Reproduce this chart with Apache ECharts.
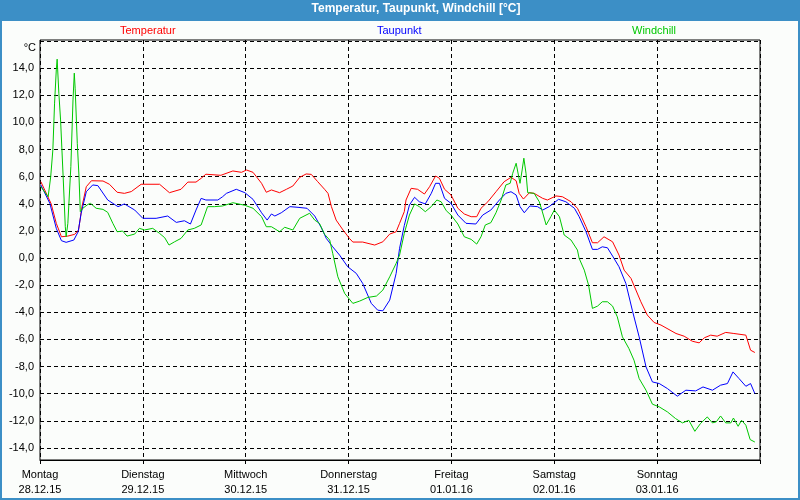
<!DOCTYPE html>
<html>
<head>
<meta charset="utf-8">
<script src="https://cdn.jsdelivr.net/npm/echarts@6/dist/echarts.min.js"></script>
<style>html,body{margin:0;padding:0;background:#fbfdfb;}#c{width:800px;height:500px;}</style>
</head>
<body>
<div id="c"></div>
<script>
// Day labels (tick every 24 h, starting Monday 28.12.15 00:00)
const dayNames = ['Montag','Dienstag','Mittwoch','Donnerstag','Freitag','Samstag','Sonntag'];
const dayDates = ['28.12.15','29.12.15','30.12.15','31.12.15','01.01.16','02.01.16','03.01.16'];
const yTicks = [-14,-12,-10,-8,-6,-4,-2,0,2,4,6,8,10,12,14];

// Temperatur (hours since Monday 00:00, °C)
const tempHours = [0.2,2.6,3.8,5.0,6.5,8.1,9.0,9.8,10.8,12.0,14.7,16.2,18.0,19.7,21.3,23.6,27.9,30.2,32.9,34.5,36.4,37.6,38.7,42.2,45.0,47.0,48.2,49.7,51.7,52.8,54.0,55.9,57.5,59.0,60.6,62.1,63.3,64.8,66.4,67.2,68.0,69.1,70.7,72.2,73.0,75.3,78.1,80.0,81.6,83.1,83.9,85.0,85.4,86.6,88.1,89.7,90.9,92.3,93.2,94.4,95.9,97.5,99.0,100.6,101.9,102.9,104.5,106.4,108.3,109.9,111.1,111.8,112.8,114.2,115.3,117.3,118.4,120.4,121.9,123.9,125.4,125.8,127.4,128.9,130.1,131.6,133.6,135.1,136.3,137.9,140.2,141.7,143.3,144.9,148.4,150.3,152.2,153.8,155.0,156.5,158.0,160.0,161.9,164.7,165.8,166.8];
const tempValues = [5.63,4.0,2.56,1.57,1.62,1.75,2.07,3.8,5.26,5.7,5.68,5.44,4.85,4.77,4.9,5.44,5.44,4.82,5.07,5.6,5.6,5.88,6.18,6.1,6.42,6.32,6.49,6.32,5.51,4.85,5.02,4.82,5.07,5.31,5.95,6.2,6.17,5.63,5.07,4.77,3.79,2.8,2.07,1.45,1.18,1.18,0.96,1.2,1.77,1.94,2.56,3.42,4.28,5.14,5.07,4.72,5.26,6.05,5.88,5.07,4.65,3.67,3.25,3.05,3.05,3.67,4.15,4.89,5.63,5.95,5.7,4.77,4.35,4.82,4.77,4.4,4.28,4.58,4.52,4.15,3.67,3.42,2.31,1.13,1.13,1.57,1.2,0.22,-0.89,-1.5,-3.22,-4.2,-4.75,-4.94,-5.56,-5.76,-6.13,-6.25,-5.88,-5.68,-5.76,-5.48,-5.56,-5.68,-6.79,-6.96];

// Taupunkt
const dewHours = [0.2,2.3,3.8,5.0,6.1,7.9,8.9,9.6,10.8,12.3,13.5,15.8,18.2,19.7,22.1,24.0,27.1,29.8,31.8,33.7,35.1,36.4,37.6,38.7,41.5,42.6,43.5,45.8,47.8,49.7,51.7,53.0,54.0,54.8,56.3,58.3,60.2,62.3,64.1,65.6,66.8,68.3,69.9,71.8,73.8,75.3,77.3,78.8,80.0,81.6,83.1,83.9,85.0,86.2,87.4,88.5,89.9,91.3,92.3,93.2,94.4,95.9,97.5,99.4,101.7,103.3,105.2,107.2,108.7,109.9,111.1,112.0,113.0,114.3,116.1,117.3,118.8,121.0,122.7,124.7,125.8,127.4,128.9,130.1,131.2,132.4,133.6,135.1,136.7,138.2,139.8,141.4,142.9,144.5,146.4,148.7,150.7,153.0,154.7,156.9,158.8,160.4,161.7,163.1,164.7,165.8,166.8];
const dewValues = [5.39,4.03,2.19,1.28,1.16,1.33,1.94,3.3,4.89,5.39,5.34,4.28,3.79,3.99,3.54,2.93,2.93,3.1,2.63,2.75,2.51,3.54,4.4,4.28,4.28,4.52,4.77,5.07,4.82,4.33,3.34,2.8,3.25,3.1,3.34,3.79,3.74,3.67,3.1,2.27,1.45,0.83,0.22,-0.64,-1.13,-1.87,-3.34,-3.84,-3.89,-3.1,-1.13,0.72,2.4,3.91,4.48,4.15,3.99,4.77,5.51,5.51,4.4,4.03,3.17,2.56,2.51,3.17,3.54,4.28,4.77,4.89,4.65,3.79,3.34,3.84,3.79,3.54,3.79,4.33,4.15,3.67,3.05,1.94,0.64,0.64,0.83,0.76,0.15,-0.64,-1.87,-3.84,-5.81,-8.02,-9.13,-9.25,-9.62,-10.18,-9.74,-9.79,-9.5,-9.74,-9.37,-9.25,-8.39,-8.88,-9.45,-9.25,-9.99];

// Windchill
const chillHours = [0.2,1.9,2.5,3.0,3.4,3.8,4.0,4.4,4.8,5.4,5.9,6.1,6.5,7.2,7.7,8.0,8.2,8.7,9.1,9.4,10.0,11.2,11.8,13.1,14.7,15.8,17.0,18.0,19.3,20.3,22.1,23.2,24.4,26.3,27.9,29.1,30.1,31.4,32.9,34.5,36.0,37.6,39.1,40.7,42.6,45.0,47.8,49.7,51.7,52.8,54.0,55.9,57.1,59.0,60.6,62.9,64.1,65.2,66.4,67.6,68.3,69.5,71.1,73.0,74.6,76.5,78.5,80.0,81.6,83.1,83.9,85.0,86.2,87.4,88.5,89.9,91.3,92.6,93.6,94.8,95.9,97.5,99.0,100.6,101.9,102.9,103.9,105.2,106.4,107.6,108.7,109.7,110.3,111.1,111.7,112.0,112.5,112.9,113.4,113.8,115.3,116.5,117.1,118.1,119.2,120.0,121.2,122.3,123.9,125.4,125.8,127.0,128.0,128.9,130.1,131.2,132.4,133.6,134.7,135.9,137.4,138.6,139.8,141.4,142.9,144.5,146.4,148.3,149.9,151.4,152.8,154.1,155.7,156.9,157.8,158.8,160.0,161.2,161.8,162.9,163.7,164.7,165.7,166.8];
const chillValues = [5.26,4.52,6.0,7.97,11.42,13.87,14.66,12.15,10.18,6.0,2.31,1.57,2.56,6.74,11.66,13.63,12.52,8.46,6.0,3.42,3.67,3.96,4.03,3.67,3.59,3.37,2.56,1.94,1.99,1.62,1.77,2.19,2.07,2.19,1.82,1.5,0.96,1.2,1.45,2.07,2.19,2.44,3.79,3.79,3.84,4.08,3.89,3.67,3.05,2.31,2.31,1.94,2.27,2.07,2.93,3.3,2.8,2.56,1.75,1.33,0.35,-1.38,-2.61,-3.34,-3.17,-2.9,-2.8,-2.36,-1.38,-0.39,0.22,1.82,3.17,3.99,3.79,3.42,3.79,4.28,4.15,3.49,3.17,2.51,1.57,1.38,1.03,1.57,2.44,2.61,3.34,4.28,5.39,5.51,6.25,6.99,6.0,5.51,6.49,7.36,6.25,4.82,4.77,4.15,3.54,2.44,3.05,3.54,3.05,1.7,1.33,0.59,-0.02,-0.89,-1.99,-3.71,-3.54,-3.22,-3.22,-3.54,-4.33,-5.81,-6.66,-7.53,-8.88,-9.74,-10.77,-10.97,-11.34,-11.83,-12.15,-11.96,-12.77,-12.2,-11.71,-12.15,-12.07,-11.64,-12.15,-12.15,-11.79,-12.4,-11.96,-12.32,-13.38,-13.56];

const zip = (h, v) => h.map((x, i) => [x, v[i]]);
const FONT = "'Liberation Sans', Arial, sans-serif";
const dash = [4, 3];

const chart = echarts.init(document.getElementById('c'), null, {renderer: 'canvas'});
chart.setOption({
  animation: false,
  backgroundColor: '#fbfdfb',
  textStyle: {fontFamily: FONT},
  title: {
    text: 'Temperatur, Taupunkt, Windchill [°C]',
    left: 416, top: 3, textAlign: 'center', padding: 0,
    textStyle: {color: '#ffffff', fontSize: 12, fontWeight: 'bold', fontFamily: FONT}
  },
  graphic: [
    {type: 'rect', shape: {x: 0, y: 0, width: 800, height: 21}, style: {fill: '#3c8fc6'}, z: -10},
    {type: 'rect', shape: {x: 1, y: 1, width: 798, height: 498}, style: {fill: null, stroke: '#3c8fc6', lineWidth: 2}, z: -10}
  ],
  legend: [
    {data: [{name: 'Temperatur', textStyle: {color: '#ff0000'}}], left: 114, top: 25, padding: 0, itemWidth: 0, itemHeight: 0, textStyle: {fontSize: 11, fontFamily: FONT}},
    {data: [{name: 'Taupunkt', textStyle: {color: '#0000ff'}}], left: 371, top: 25, padding: 0, itemWidth: 0, itemHeight: 0, textStyle: {fontSize: 11, fontFamily: FONT}},
    {data: [{name: 'Windchill', textStyle: {color: '#00c800'}}], left: 626, top: 25, padding: 0, itemWidth: 0, itemHeight: 0, textStyle: {fontSize: 11, fontFamily: FONT}}
  ],
  grid: [
    {left: 40, right: 40, top: 40, bottom: 40, show: true, borderColor: '#000', borderWidth: 1, backgroundColor: 'transparent'},
    {left: 40, right: 40, top: 41, bottom: 52}
  ],
  xAxis: [
    {
      type: 'value', gridIndex: 0, min: 0, max: 168, interval: 24,
      axisLine: {show: true, lineStyle: {color: '#000', width: 1}},
      axisTick: {show: true, length: 4, lineStyle: {color: '#000'}},
      axisLabel: {
        color: '#000', fontSize: 11, margin: 7, lineHeight: 15, fontFamily: FONT,
        formatter: v => { const i = Math.round(v / 24); return i < dayNames.length ? dayNames[i] + '\n' + dayDates[i] : ''; }
      },
      splitLine: {show: true, lineStyle: {color: '#000', type: dash, width: 1}}
    },
    {type: 'value', gridIndex: 1, min: 0, max: 168, show: false}
  ],
  yAxis: [
    {type: 'value', gridIndex: 0, min: 0, max: 1, show: false},
    {
      type: 'value', gridIndex: 1, min: yTicks[0], max: 16, interval: 2,
      name: '°C', nameLocation: 'end', nameGap: -12,
      nameTextStyle: {color: '#000', fontSize: 11, align: 'right', padding: [0, 4, 0, 0], fontFamily: FONT},
      axisLine: {show: false}, axisTick: {show: false},
      axisLabel: {color: '#000', fontSize: 11, margin: 6, fontFamily: FONT,
        formatter: v => yTicks.includes(v) ? v.toFixed(1).replace('.', ',') : ''},
      splitLine: {show: true, lineStyle: {color: '#000', type: dash, width: 1}}
    }
  ],
  series: [
    {name: 'Temperatur', type: 'line', xAxisIndex: 1, yAxisIndex: 1, data: zip(tempHours, tempValues), symbol: 'none', lineStyle: {color: '#ff0000', width: 1}, itemStyle: {color: '#ff0000'}},
    {name: 'Taupunkt', type: 'line', xAxisIndex: 1, yAxisIndex: 1, data: zip(dewHours, dewValues), symbol: 'none', lineStyle: {color: '#0000ff', width: 1}, itemStyle: {color: '#0000ff'}},
    {name: 'Windchill', type: 'line', xAxisIndex: 1, yAxisIndex: 1, data: zip(chillHours, chillValues), symbol: 'none', lineStyle: {color: '#00c800', width: 1}, itemStyle: {color: '#00c800'}}
  ]
});
</script>
</body>
</html>
